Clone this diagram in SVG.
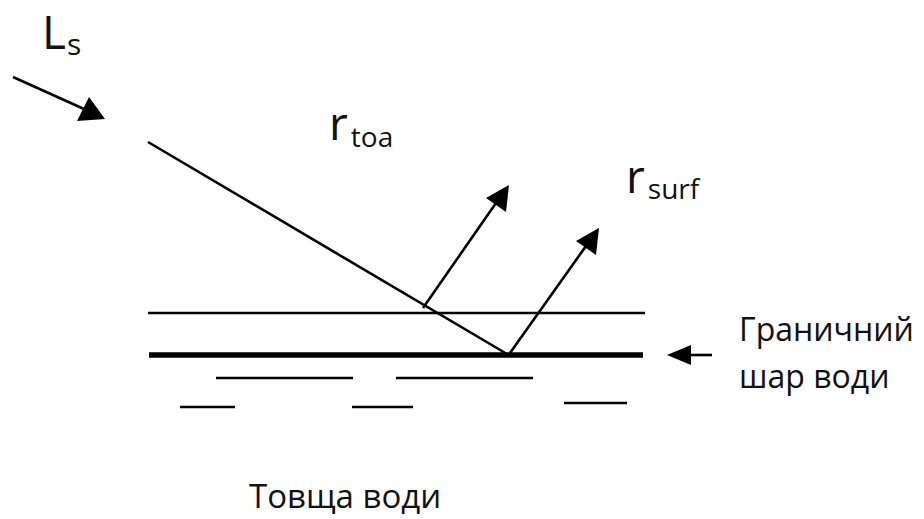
<svg xmlns="http://www.w3.org/2000/svg" width="924" height="519" viewBox="0 0 924 519">
<defs>
<style>
.ln{stroke:#000;fill:none;stroke-width:2.6}
.t{font-family:"Open Sans","Noto Sans",sans-serif;fill:#111}
</style>
</defs>
<rect width="924" height="519" fill="#fff"/>
<g id="connectors">
<line class="ln" x1="13" y1="77" x2="84" y2="109"/>
<path d="M105,119 L77,121 L89,97 z" fill="#000"/>
<line class="ln" x1="148" y1="142" x2="507" y2="354"/>
<line class="ln" x1="423" y1="308" x2="496" y2="203"/>
<path d="M509,185 L506,212 L486,198 z" fill="#000"/>
<line class="ln" x1="510" y1="353" x2="586" y2="246"/>
<path d="M599,228 L596,255 L576,241 z" fill="#000"/>
<line class="ln" x1="690" y1="355" x2="712" y2="355"/>
<path d="M667,355 L691,345 L691,365 z" fill="#000"/>
</g>
<g id="surface">
<line class="ln" x1="148" y1="313" x2="645" y2="313"/>
<line x1="149" y1="355" x2="643" y2="355" stroke="#000" stroke-width="5.5"/>
</g>
<g id="water">
<line class="ln" x1="216" y1="378" x2="353" y2="378"/>
<line class="ln" x1="396" y1="378" x2="533" y2="378"/>
<line class="ln" x1="180" y1="407" x2="235" y2="407"/>
<line class="ln" x1="352" y1="407" x2="413" y2="407"/>
<line class="ln" x1="564" y1="403" x2="627" y2="403"/>
</g>
<g id="labels">
<text class="t" x="42" y="49" font-size="46">L<tspan font-size="30" dx="1" dy="6">s</tspan></text>
<text class="t" x="329" y="140" font-size="46">r<tspan font-size="28" dx="3" dy="7">toa</tspan></text>
<text class="t" x="626" y="193" font-size="46">r<tspan font-size="28" dx="3" dy="6">surf</tspan></text>
<text class="t" x="739" y="341" font-size="32">Граничний</text>
<text class="t" x="739" y="388" font-size="32">шар води</text>
<text class="t" x="249" y="508" font-size="33">Товща води</text>
</g>
</svg>
